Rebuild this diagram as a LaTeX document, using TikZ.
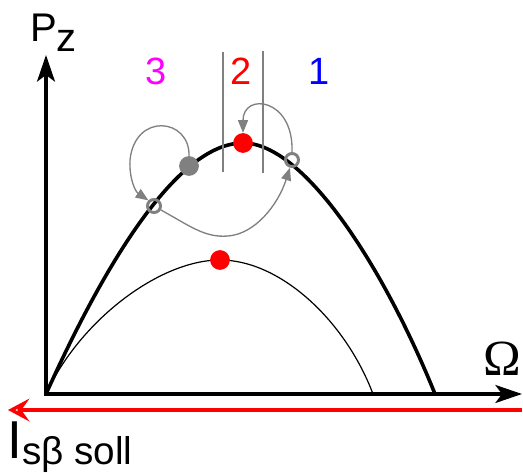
\documentclass[tikz,border=0pt]{standalone}
\usepackage{fontspec}
\setmainfont{Liberation Sans}
\newfontfamily\serifom{Liberation Serif}
\usetikzlibrary{arrows.meta}
\definecolor{midgray}{RGB}{128,128,128}
\definecolor{mag}{RGB}{255,0,255}
\begin{document}
\begin{tikzpicture}[x=0.75pt,y=-0.75pt,
  axis/.style={line width=2.4pt,line join=miter,
    {Stealth[length=20pt,width=13.5pt,inset=5pt]}-{Stealth[length=20pt,width=13.5pt,inset=5pt]}},
  bigcurve/.style={line width=2.7pt},
  smallcurve/.style={line width=0.9pt},
  looparrow/.style={draw=midgray,line width=1.0pt,-{Triangle[length=9.5pt,width=7.5pt]}},
  sepline/.style={draw=midgray,line width=2.2pt},
  reddot/.style={circle,fill=red,inner sep=0pt,minimum size=14.8pt},
  graydot/.style={circle,fill=midgray,inner sep=0pt,minimum size=14.8pt},
  ring/.style={circle,draw=midgray,line width=2.2pt,inner sep=0pt,minimum size=9.8pt},
  num/.style={anchor=base,inner sep=0pt,font=\fontsize{28.5pt}{30pt}\selectfont}
]
\useasboundingbox (0,0) rectangle (523,473);
% axes
\coordinate (O) at (46,394);
\coordinate (ytip) at (46,55);
\coordinate (xtip) at (522,394);
\draw[axis] (ytip) -- (O) -- (xtip);
% curves
\draw[bigcurve] (O) .. controls (95,285) and (172,143) .. (243,143)
  .. controls (305,143) and (385,270) .. (435,394);
\draw[smallcurve] (O) .. controls (80,320) and (160,260) .. (220,260)
  .. controls (280,260) and (345,320) .. (373,394);
% red reference arrow
\coordinate (rs) at (522,410);
\coordinate (re) at (8,410);
\draw[red,line width=2.5pt,-{Stealth[open,length=16pt,width=17pt,inset=6pt]}] (rs) -- (re);
% separators
\coordinate (s1a) at (223,52); \coordinate (s1b) at (223,172);
\coordinate (s2a) at (263,51); \coordinate (s2b) at (263,173);
\draw[sepline] (s1a) -- (s1b);
\draw[sepline] (s2a) -- (s2b);
% points
\node[reddot] (top) at (243,143) {};
\node[reddot] (low) at (220,260) {};
\node[graydot] (g) at (189,166) {};
\node[ring] (c1) at (154,206) {};
\node[ring] (c2) at (292,160) {};
% loops
\draw[looparrow] (g.north) .. controls (190,118) and (135,112) .. (130,160)
  .. controls (129,180) and (136,192) .. (c1.135);
\draw[looparrow] (c1.-30) .. controls (190,226) and (205,238) .. (228,236)
  .. controls (255,234) and (278,205) .. (c2.-105);
\draw[looparrow] (c2.north) .. controls (294,98) and (243,92) .. (top.north);
% labels
\node[anchor=base west,inner sep=0pt,font=\fontsize{30pt}{32pt}\selectfont] (pz) at (30,42) {P\raisebox{-7.5pt}{z}};
\node[anchor=base west,inner sep=0pt,font=\serifom\fontsize{38pt}{40pt}\selectfont] (om) at (483,375) {Ω};
\node[anchor=base west,inner sep=0pt,font=\fontsize{40pt}{42pt}\selectfont] (isb) at (7,458) {I\raisebox{-5pt}{\fontsize{29pt}{30pt}\selectfont sβ soll}};
\node[num,text=mag] (n3) at (156,85) {3};
\node[num,text=red] (n2) at (241,85) {2};
\node[num,text=blue] (n1) at (319,85) {1};
\end{tikzpicture}
\end{document}
